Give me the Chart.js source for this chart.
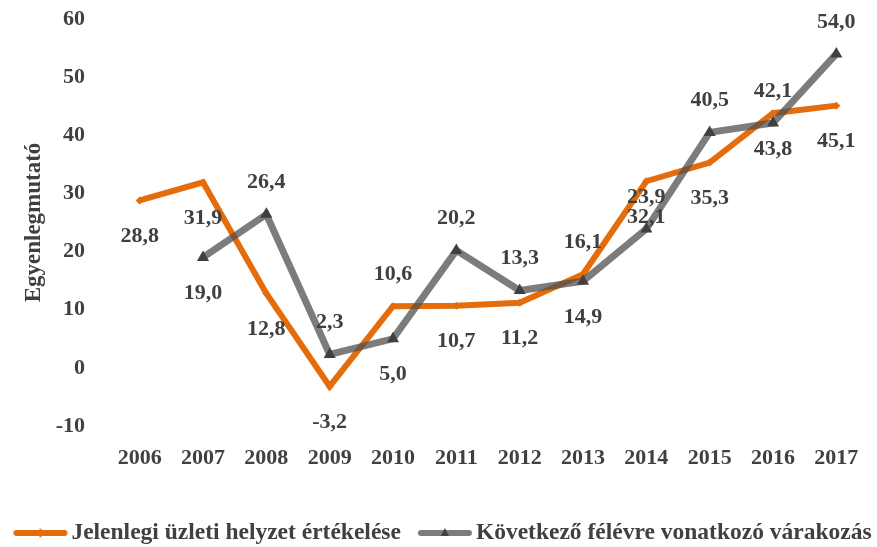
<!DOCTYPE html>
<html>
<head>
<meta charset="utf-8">
<script src="https://cdn.jsdelivr.net/npm/chart.js@4"></script>
<style>
  body { margin: 0; background: #fff; }
  #wrap { width: 877px; height: 547px; }
</style>
</head>
<body>
<div id="wrap"><canvas id="chart"></canvas></div>
<script>
const years = ['2006', '2007', '2008', '2009', '2010', '2011', '2012', '2013', '2014', '2015', '2016', '2017'];
const currentValues = [28.8, 31.9, 12.8, -3.2, 10.6, 10.7, 11.2, 16.1, 32.1, 35.3, 43.8, 45.1];
const expectedValues = [null, 19.0, 26.4, 2.3, 5.0, 20.2, 13.3, 14.9, 23.9, 40.5, 42.1, 54.0];
// a = label above the point, b = below
const currentLabelSide = ['b', 'b', 'b', 'b', 'a', 'b', 'b', 'a', 'b', 'b', 'b', 'b'];
const expectedLabelSide = ['a', 'b', 'a', 'a', 'b', 'a', 'a', 'b', 'a', 'a', 'a', 'a'];
const yMin = -10;
const yMax = 60;
const yStep = 10;

const ORANGE = '#e46c0a';
const GREY = 'rgba(80, 80, 80, 0.75)';
const TEXT = '#404040';
const SERIF = '"Palatino Linotype", "Book Antiqua", "Liberation Serif", serif';

function fmt(v) {
  return v.toFixed(1).replace('.', ',');
}

// little line+marker picture used as the legend symbol
function legendIcon(color, marker) {
  const c = document.createElement('canvas');
  c.width = 56;
  c.height = 12;
  const g = c.getContext('2d');
  g.strokeStyle = color;
  g.lineWidth = 6;
  g.lineCap = 'round';
  g.beginPath();
  g.moveTo(4, 6);
  g.lineTo(52, 6);
  g.stroke();
  if (marker === 'triangle') {
    g.fillStyle = '#404040';
    g.beginPath();
    g.moveTo(28, 1);
    g.lineTo(32, 9);
    g.lineTo(24, 9);
    g.closePath();
    g.fill();
  } else {
    g.fillStyle = color;
    g.beginPath();
    g.moveTo(28, 1);
    g.lineTo(31, 6);
    g.lineTo(28, 11);
    g.lineTo(25, 6);
    g.closePath();
    g.fill();
  }
  return c;
}

const icons = [legendIcon(ORANGE, 'diamond'), legendIcon('rgba(110,110,110,0.9)', 'triangle')];

const valueLabels = {
  id: 'valueLabels',
  afterDatasetsDraw(chart) {
    const ctx = chart.ctx;
    ctx.save();
    ctx.font = 'bold 22px ' + SERIF;
    ctx.fillStyle = TEXT;
    ctx.textAlign = 'center';
    ctx.textBaseline = 'middle';
    chart.data.datasets.forEach((ds, i) => {
      const meta = chart.getDatasetMeta(i);
      meta.data.forEach((pt, j) => {
        const v = ds.data[j];
        if (v == null) return;
        const dy = ds.labelSide[j] === 'a' ? -32 : 36;
        ctx.fillText(fmt(v), pt.x, pt.y + dy);
      });
    });
    ctx.restore();
  }
};

// legend drawn by hand: line symbol, then the text, one row centred at the bottom
const lineLegend = {
  id: 'lineLegend',
  afterDraw(chart) {
    const ctx = chart.ctx;
    ctx.save();
    ctx.font = 'bold 23.5px ' + SERIF;
    ctx.fillStyle = TEXT;
    ctx.textAlign = 'left';
    ctx.textBaseline = 'middle';
    const items = chart.data.datasets.map((ds, i) => ({ text: ds.label, icon: icons[i], w: ctx.measureText(ds.label).width }));
    const total = items.reduce((s, it) => s + 59 + it.w, 0) + 16 * (items.length - 1);
    let x = 442 - total / 2;
    const y = 533;
    items.forEach(it => {
      ctx.drawImage(it.icon, x, y - 6);
      x += 59;
      ctx.fillText(it.text, x, y);
      x += it.w + 16;
    });
    ctx.restore();
  }
};

new Chart(document.getElementById('chart'), {
  type: 'line',
  data: {
    labels: years,
    datasets: [
      {
        label: 'Jelenlegi üzleti helyzet értékelése',
        data: currentValues,
        labelSide: currentLabelSide,
        borderColor: ORANGE,
        backgroundColor: ORANGE,
        borderWidth: 6,
        pointStyle: 'rectRot',
        pointRadius: 4,
        pointBorderWidth: 0,
        pointBackgroundColor: ORANGE,
        tension: 0,
        order: 1
      },
      {
        label: 'Következő félévre vonatkozó várakozás',
        data: expectedValues,
        labelSide: expectedLabelSide,
        borderColor: GREY,
        backgroundColor: '#404040',
        borderWidth: 7,
        pointStyle: 'triangle',
        pointRadius: 7,
        pointBorderWidth: 0,
        pointBackgroundColor: '#404040',
        tension: 0,
        order: 0
      }
    ]
  },
  options: {
    responsive: true,
    maintainAspectRatio: false,
    animation: false,
    layout: { padding: { top: 19, right: 9, bottom: 50, left: 0 } },
    scales: {
      x: {
        offset: true,
        grid: { display: false },
        border: { display: false },
        ticks: { color: TEXT, font: { family: SERIF, size: 22, weight: 'bold' }, padding: 11, maxRotation: 0 },
        afterFit: s => { s.height = 71; s.paddingLeft = 0; s.paddingRight = 0; }
      },
      y: {
        min: yMin,
        max: yMax,
        grid: { display: false },
        border: { display: false },
        ticks: { stepSize: yStep, color: TEXT, font: { family: SERIF, size: 22, weight: 'bold' }, padding: 15 },
        title: {
          display: true,
          text: 'Egyenlegmutató',
          color: TEXT,
          font: { family: SERIF, size: 23, weight: 'bold' },
          padding: { top: 20, bottom: 0 }
        },
        afterFit: s => { s.width = 108; s.paddingTop = 0; s.paddingBottom = 0; }
      }
    },
    plugins: {
      legend: { display: false },
      tooltip: { enabled: false }
    }
  },
  plugins: [valueLabels, lineLegend]
});
</script>
</body>
</html>
